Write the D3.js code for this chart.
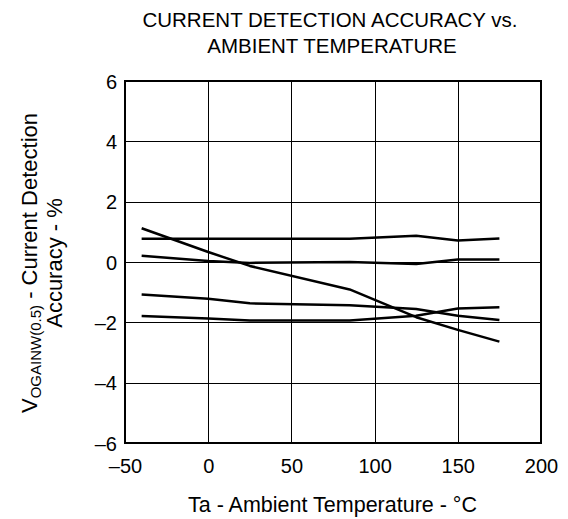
<!DOCTYPE html>
<html>
<head>
<meta charset="utf-8">
<script src="https://cdn.jsdelivr.net/npm/d3@7"></script>
<style>
  html, body { margin: 0; padding: 0; background: #fff; }
  svg { display: block; font-family: "Liberation Sans", Arial, sans-serif; }
</style>
</head>
<body>
<svg id="chart" width="568" height="519"></svg>
<script>
// ---- data ----
const temperatures = [-40, 0, 25, 85, 125, 150, 175];
const seriesA = [1.12, 0.33, -0.13, -0.91, -1.83, -2.25, -2.64];
const seriesB = [0.77, 0.77, 0.77, 0.77, 0.87, 0.71, 0.78];
const seriesC = [0.21, 0.03, -0.03, 0.0, -0.07, 0.08, 0.08];
const seriesD = [-1.08, -1.22, -1.37, -1.43, -1.56, -1.78, -1.92];
const seriesE = [-1.79, -1.87, -1.94, -1.94, -1.78, -1.54, -1.50];
const xTicks = [-50, 0, 50, 100, 150, 200];
const yTicks = [-6, -4, -2, 0, 2, 4, 6];
const titleLines = ["CURRENT DETECTION ACCURACY vs.", "AMBIENT TEMPERATURE"];
const xTitle = "Ta - Ambient Temperature - °C";

(function () {
const svg = d3.select("#chart");
const pLeft = 125, pRight = 541, pTop = 81, pBottom = 443;
const x = d3.scaleLinear().domain([-50, 200]).range([pLeft, pRight]);
const y = d3.scaleLinear().domain([-6, 6]).range([pBottom, pTop]);
const fmt = v => (v < 0 ? "\u2013" + Math.abs(v) : String(v));

// grid
svg.append("g").selectAll("line").data(xTicks.slice(1, -1)).join("line")
  .attr("x1", d => Math.round(x(d)) + 0.5).attr("x2", d => Math.round(x(d)) + 0.5)
  .attr("y1", pTop).attr("y2", pBottom)
  .attr("stroke", "#000").attr("stroke-width", 1);
svg.append("g").selectAll("line").data(yTicks.slice(1, -1)).join("line")
  .attr("y1", d => Math.round(y(d)) + 0.5).attr("y2", d => Math.round(y(d)) + 0.5)
  .attr("x1", pLeft).attr("x2", pRight)
  .attr("stroke", "#000").attr("stroke-width", 1);

// frame
svg.append("rect").attr("x", pLeft).attr("y", pTop)
  .attr("width", pRight - pLeft).attr("height", pBottom - pTop)
  .attr("fill", "none").attr("stroke", "#000").attr("stroke-width", 2);

// axes labels via d3 axes (no domain / tick lines)
const xAxis = svg.append("g").attr("transform", `translate(0,${pBottom})`)
  .call(d3.axisBottom(x).tickValues(xTicks).tickFormat(fmt).tickSize(0).tickPadding(0));
xAxis.select(".domain").remove();
xAxis.selectAll("text").attr("font-size", 20).attr("font-family", "Liberation Sans, Arial, sans-serif")
  .attr("fill", "#000").attr("dy", null).attr("y", 30);

const yAxis = svg.append("g").attr("transform", `translate(${pLeft},0)`)
  .call(d3.axisLeft(y).tickValues(yTicks).tickFormat(fmt).tickSize(0).tickPadding(8));
yAxis.select(".domain").remove();
yAxis.selectAll("text").attr("font-size", 20).attr("font-family", "Liberation Sans, Arial, sans-serif")
  .attr("fill", "#000").attr("dy", "0.36em");

// data lines
const line = d3.line().x((d, i) => x(temperatures[i])).y(d => y(d));
[seriesA, seriesB, seriesC, seriesD, seriesE].forEach(s => {
  svg.append("path").datum(s).attr("d", line)
    .attr("fill", "none").attr("stroke", "#000").attr("stroke-width", 2.5)
    .attr("stroke-linejoin", "round");
});

// title
svg.append("text").attr("x", 330).attr("y", 27).attr("text-anchor", "middle")
  .attr("font-size", 20.5).attr("fill", "#000").text(titleLines[0]);
svg.append("text").attr("x", 332).attr("y", 53).attr("text-anchor", "middle")
  .attr("font-size", 20.5).attr("fill", "#000").text(titleLines[1]);

// x title
svg.append("text").attr("x", 332.5).attr("y", 512).attr("text-anchor", "middle")
  .attr("font-size", 21.5).attr("fill", "#000").text(xTitle);

// y title (rotated)
const yt = svg.append("g").attr("transform", "translate(0,263) rotate(-90)");
const l1 = yt.append("text").attr("x", 0).attr("y", 37).attr("text-anchor", "middle")
  .attr("font-size", 22).attr("fill", "#000");
l1.append("tspan").text("V");
l1.append("tspan").attr("font-size", 15).attr("dy", 4).text("OGAINW(0.5)");
l1.append("tspan").attr("dy", -4).text(" - Current Detection");
yt.append("text").attr("x", 0).attr("y", 61.5).attr("text-anchor", "middle")
  .attr("font-size", 22).attr("fill", "#000").text("Accuracy - %");
})();
</script>
</body>
</html>
